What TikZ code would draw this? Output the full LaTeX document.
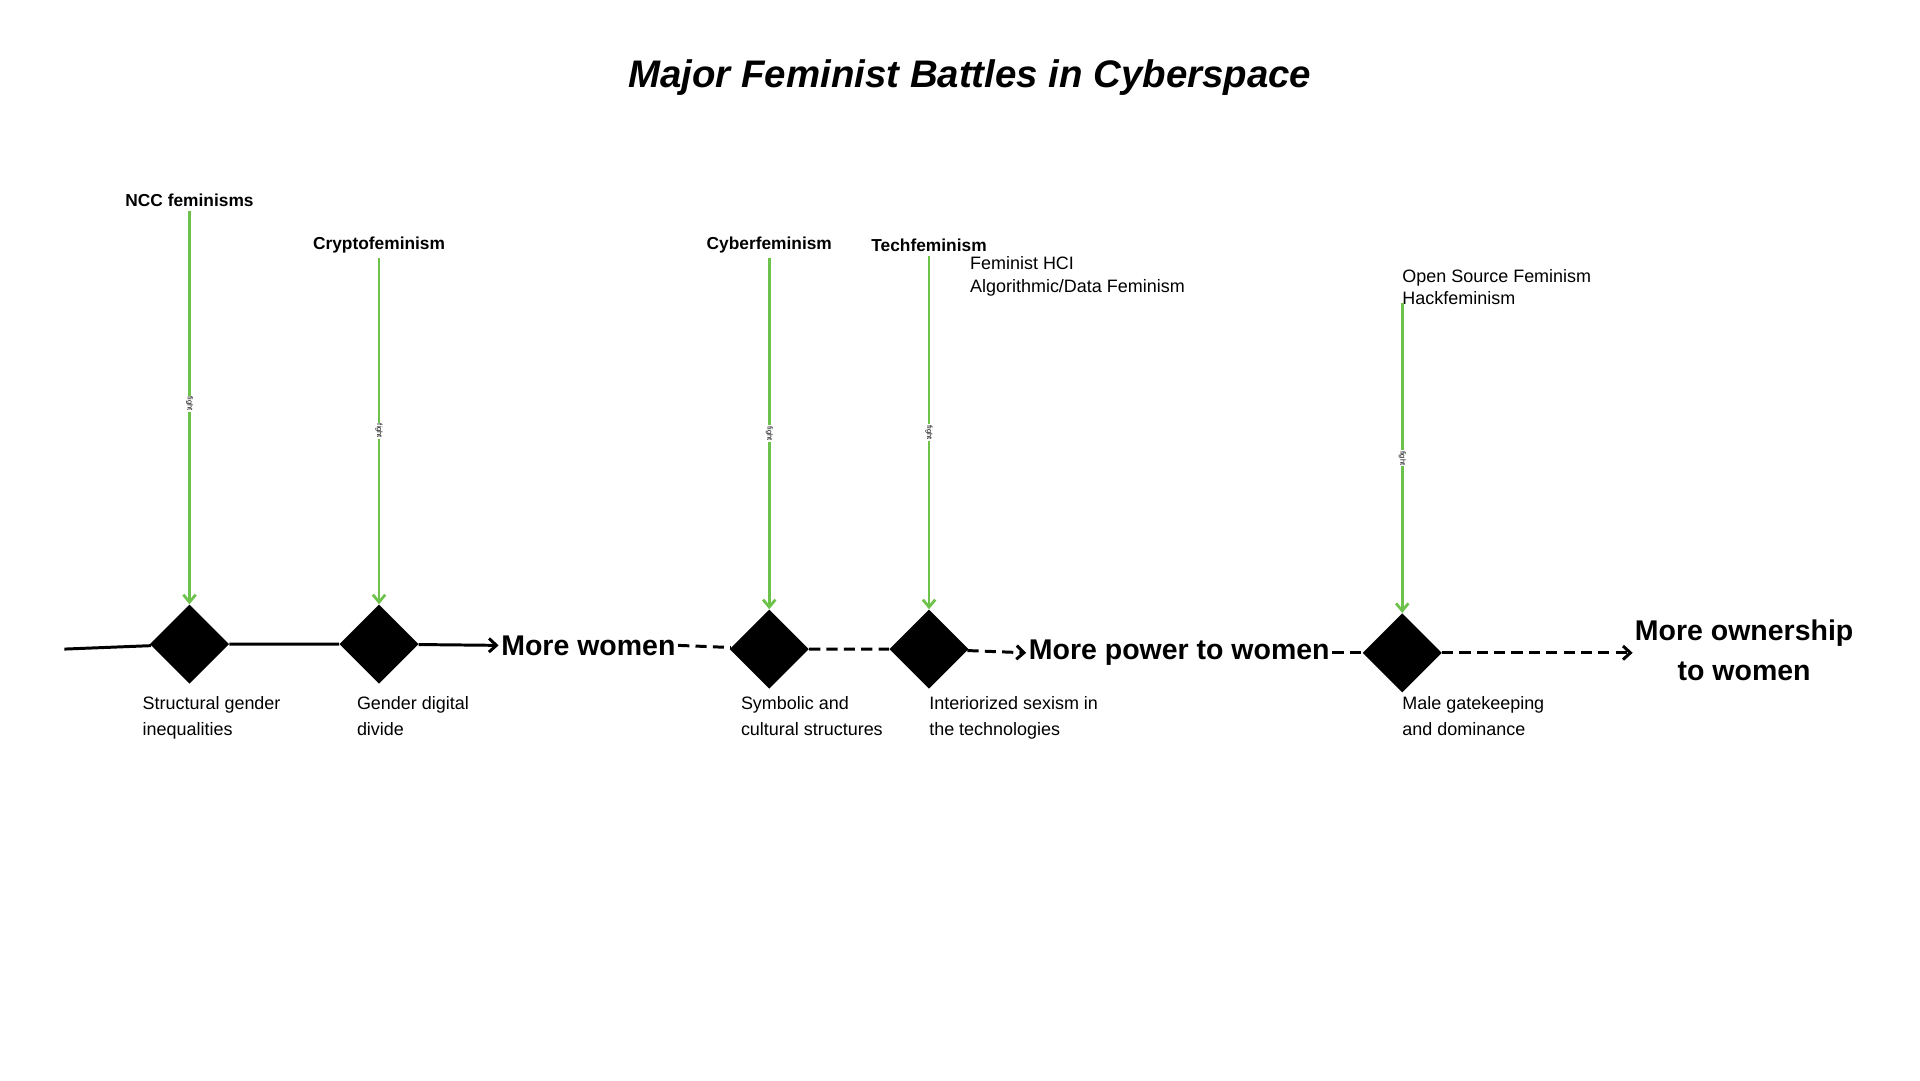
\documentclass[tikz,border=0pt]{standalone}
\usepackage{fontspec}
\setmainfont{Liberation Sans}
\usetikzlibrary{arrows.meta,shapes.geometric}
\definecolor{fgreen}{HTML}{6CC24A}
\begin{document}
\begin{tikzpicture}[x=1pt,y=-1pt,
  dia/.style={diamond,fill=black,minimum width=64pt,minimum height=64pt,inner sep=0pt},
  gar/.style={draw=fgreen,line width=2.2pt,-{Straight Barb[length=6pt,width=10pt]}},
  fl/.style={fill=white,rotate=-90,font=\fontsize{6}{7}\selectfont,inner sep=1pt},
  top/.style={font=\fontsize{14}{17}\selectfont\bfseries},
  low/.style={anchor=north west,align=left,font=\fontsize{14.5}{21}\selectfont,inner sep=0pt},
  big/.style={font=\fontsize{23}{33}\selectfont\bfseries,align=center,inner sep=2pt},
  mline/.style={line width=2.4pt},
  arr/.style={-{Straight Barb[length=6pt,width=11pt]}}]
\useasboundingbox (0,0) rectangle (1550,872);
\node[font=\fontsize{31}{36}\selectfont\bfseries\itshape] (title) at (783,63) {Major Feminist Battles in Cyberspace};
\node[dia] (d1) at (153,520) {};
\node[dia] (d2) at (306,520) {};
\node[dia] (d3) at (621,524) {};
\node[dia] (d4) at (750,524) {};
\node[dia] (d5) at (1132,527) {};
\coordinate (s) at (52,524);
\node[big] (mw) at (475,521) {More women};
\node[big] (mp) at (952,527) {More power to women};
\node[big] (mo) at (1408,525) {More ownership\\to women};
\coordinate (e) at (1318,527);
\draw[mline] (s) -- (d1) -- (d2);
\draw[mline,arr] (d2) -- (mw.west);
\draw[mline,dashed,dash pattern=on 9pt off 5pt] (mw.east) -- (d3) -- (d4);
\draw[mline,dashed,dash pattern=on 9pt off 5pt,arr] (d4) -- (mp.west);
\draw[mline,dashed,dash pattern=on 9pt off 5pt] (mp.east) -- (d5);
\draw[mline,dashed,dash pattern=on 9pt off 5pt,arr] (d5) -- (e);
\node[top] (t1) at (153,162) {NCC feminisms};
\node[top] (t2) at (306,198) {Cryptofeminism};
\node[top] (t3) at (621,198) {Cyberfeminism};
\node[top] (t4) at (750,198) {Techfeminism};
\node[low,font=\fontsize{14.5}{18.5}\selectfont] (x4) at (783,207) {Feminist HCI\\Algorithmic/Data Feminism};
\node[low,font=\fontsize{14.5}{18.5}\selectfont] (x5) at (1132,217) {Open Source Feminism\\Hackfeminism};
\coordinate (a5) at (1132,245);
\draw[gar] (t1) -- node[fl,pos=0.49]{fight} (d1.north);
\draw[gar] (t2) -- node[fl,pos=0.5]{fight} (d2.north);
\draw[gar] (t3) -- node[fl,pos=0.5]{fight} (d3.north);
\draw[gar] (t4) -- node[fl,pos=0.5]{fight} (d4.north);
\draw[gar] (a5) -- node[fl,pos=0.5]{fight} (d5.north);
\node[low] (b1) at (115,562) {Structural gender\\inequalities};
\node[low] (b2) at (288,562) {Gender digital\\divide};
\node[low] (b3) at (598,562) {Symbolic and\\cultural structures};
\node[low] (b4) at (750,562) {Interiorized sexism in\\the technologies};
\node[low] (b5) at (1132,562) {Male gatekeeping\\and dominance};
\end{tikzpicture}
\end{document}
